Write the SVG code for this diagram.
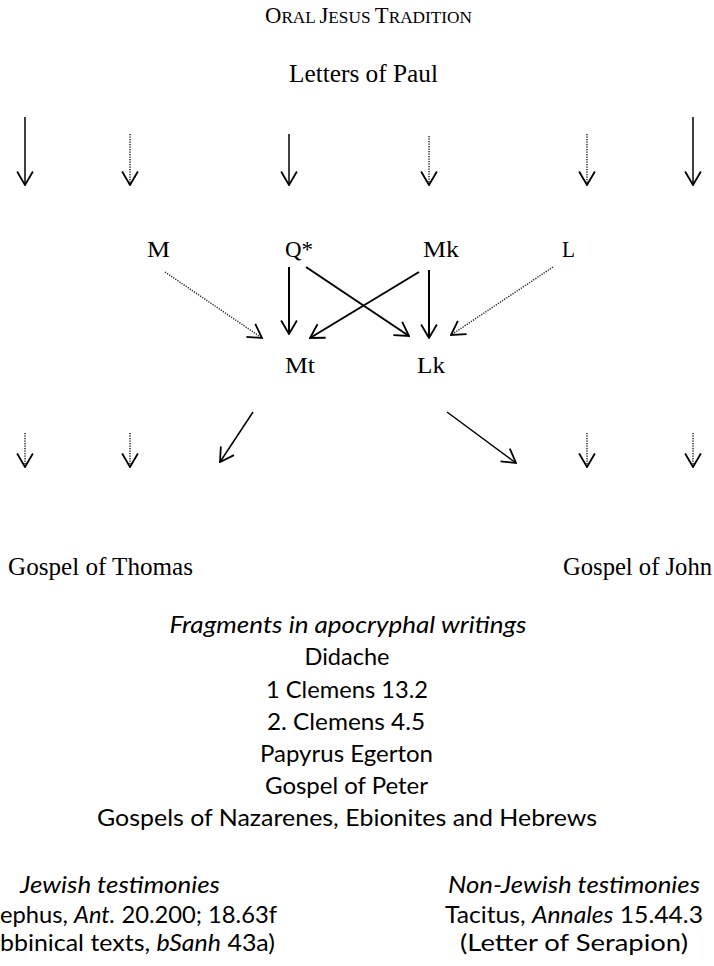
<svg xmlns="http://www.w3.org/2000/svg" width="714" height="966" viewBox="0 0 714 966">
<style>
.serif{font-family:"Liberation Serif","Times New Roman",serif;fill:#000}
.lbl{font-size:24px}
.sans{font-family:Lato,"Open Sans","Liberation Sans",sans-serif;font-size:22.5px;fill:#000;text-anchor:middle}
.it{font-style:italic}
.solid{stroke:#000;stroke-width:1.5;fill:none}
.thick{stroke:#000;stroke-width:2;fill:none}
.dot{stroke:#222;stroke-width:1.5;stroke-dasharray:1.2 1.3;fill:none}
</style>
<defs>
<marker id="ah" markerUnits="userSpaceOnUse" markerWidth="16" markerHeight="18" viewBox="0 0 14 16" refX="13" refY="8" orient="auto">
<path d="M1,1 L13,8 L1,15" fill="none" stroke="#000" stroke-width="1.6" stroke-dasharray="none"/>
</marker>
</defs>
<rect width="714" height="966" fill="#fff"/>

<g id="title">
<text class="serif" x="265" y="23" textLength="207" lengthAdjust="spacingAndGlyphs"><tspan font-size="23">O</tspan><tspan font-size="17.5">RAL </tspan><tspan font-size="23">J</tspan><tspan font-size="17.5">ESUS </tspan><tspan font-size="23">T</tspan><tspan font-size="17.5">RADITION</tspan></text>
</g>
<g id="paul"><text class="serif" x="289" y="82" font-size="25" textLength="149" lengthAdjust="spacingAndGlyphs">Letters of Paul</text></g>

<g id="M"><text class="serif lbl" x="147" y="257" textLength="23" lengthAdjust="spacingAndGlyphs">M</text></g>
<g id="Q"><text class="serif lbl" x="285" y="257" textLength="28" lengthAdjust="spacingAndGlyphs">Q*</text></g>
<g id="Mk"><text class="serif lbl" x="423" y="257" textLength="36" lengthAdjust="spacingAndGlyphs">Mk</text></g>
<g id="L"><text class="serif lbl" x="562" y="257" textLength="13" lengthAdjust="spacingAndGlyphs">L</text></g>
<g id="Mt"><text class="serif lbl" x="285" y="373" textLength="30" lengthAdjust="spacingAndGlyphs">Mt</text></g>
<g id="Lk"><text class="serif lbl" x="417" y="373" textLength="28" lengthAdjust="spacingAndGlyphs">Lk</text></g>

<g id="thomas"><text class="serif" x="8" y="575" font-size="25" textLength="185" lengthAdjust="spacingAndGlyphs">Gospel of Thomas</text></g>
<g id="john"><text class="serif" x="563" y="575" font-size="25" textLength="149" lengthAdjust="spacingAndGlyphs">Gospel of John</text></g>

<g id="fragments">
<text class="sans it" x="348" y="633" textLength="357" lengthAdjust="spacingAndGlyphs">Fragments in apocryphal writings</text>
<text class="sans" x="347" y="665" textLength="85" lengthAdjust="spacingAndGlyphs">Didache</text>
<text class="sans" x="347" y="698" textLength="162" lengthAdjust="spacingAndGlyphs">1 Clemens 13.2</text>
<text class="sans" x="346" y="730" textLength="158" lengthAdjust="spacingAndGlyphs">2. Clemens 4.5</text>
<text class="sans" x="346.5" y="762" textLength="173" lengthAdjust="spacingAndGlyphs">Papyrus Egerton</text>
<text class="sans" x="346.5" y="794" textLength="163" lengthAdjust="spacingAndGlyphs">Gospel of Peter</text>
<text class="sans" x="347" y="826" textLength="500" lengthAdjust="spacingAndGlyphs">Gospels of Nazarenes, Ebionites and Hebrews</text>
</g>

<g id="jewish">
<text class="sans it" x="120" y="893" textLength="200" lengthAdjust="spacingAndGlyphs">Jewish testimonies</text>
<text class="sans" x="277" y="923" style="text-anchor:end" textLength="277" lengthAdjust="spacingAndGlyphs">ephus, <tspan class="it">Ant.</tspan> 20.200; 18.63f</text>
<text class="sans" x="275" y="951" style="text-anchor:end" textLength="275" lengthAdjust="spacingAndGlyphs">bbinical texts, <tspan class="it">bSanh</tspan> 43a)</text>
</g>

<g id="nonjewish">
<text class="sans it" x="574" y="893" textLength="252" lengthAdjust="spacingAndGlyphs">Non-Jewish testimonies</text>
<text class="sans" x="574" y="923" textLength="258" lengthAdjust="spacingAndGlyphs">Tacitus, <tspan class="it">Annales</tspan> 15.44.3</text>
<text class="sans" x="574" y="951" textLength="228" lengthAdjust="spacingAndGlyphs">(Letter of Serapion)</text>
</g>

<g id="connectors">
<line class="solid" x1="25" y1="117" x2="25" y2="185" marker-end="url(#ah)"/>
<line class="dot" x1="130" y1="134" x2="130" y2="185" marker-end="url(#ah)"/>
<line class="solid" x1="289" y1="134" x2="289" y2="185" marker-end="url(#ah)"/>
<line class="dot" x1="429" y1="136" x2="429" y2="185" marker-end="url(#ah)"/>
<line class="dot" x1="587" y1="134" x2="587" y2="185" marker-end="url(#ah)"/>
<line class="solid" x1="693" y1="117" x2="693" y2="185" marker-end="url(#ah)"/>

<line class="dot" x1="165" y1="272" x2="262" y2="338" marker-end="url(#ah)"/>
<line class="thick" x1="289" y1="267" x2="289" y2="334" marker-end="url(#ah)"/>
<line class="thick" x1="306" y1="267" x2="409" y2="336" marker-end="url(#ah)"/>
<line class="thick" x1="419" y1="272" x2="310" y2="338" marker-end="url(#ah)"/>
<line class="thick" x1="429" y1="270" x2="429" y2="338" marker-end="url(#ah)"/>
<line class="dot" x1="553" y1="267" x2="451" y2="335" marker-end="url(#ah)"/>

<line class="dot" x1="25" y1="433" x2="25" y2="467" marker-end="url(#ah)"/>
<line class="dot" x1="130" y1="433" x2="130" y2="467" marker-end="url(#ah)"/>
<line class="solid" x1="253" y1="412" x2="220" y2="462" marker-end="url(#ah)"/>
<line class="solid" x1="447" y1="412" x2="516" y2="463" marker-end="url(#ah)"/>
<line class="dot" x1="587" y1="433" x2="587" y2="467" marker-end="url(#ah)"/>
<line class="dot" x1="693" y1="433" x2="693" y2="467" marker-end="url(#ah)"/>
</g>
</svg>
